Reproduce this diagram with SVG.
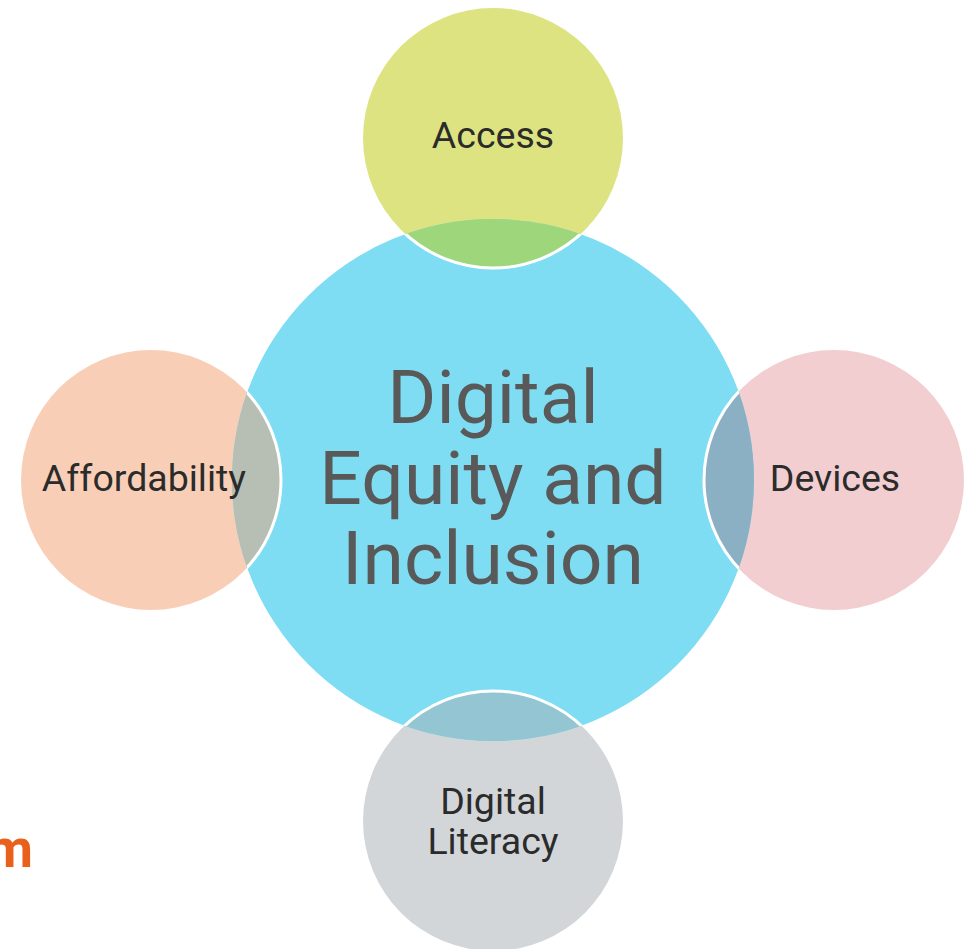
<svg xmlns="http://www.w3.org/2000/svg" width="974" height="949" viewBox="0 0 974 949">
<style>
.sm{font-family:Roboto,"Liberation Sans",sans-serif;font-size:37.5px;fill:#2b2b2b;text-anchor:middle}
.big{font-family:Roboto,"Liberation Sans",sans-serif;font-size:75px;fill:#595959;text-anchor:middle}
.ring{fill:none;stroke:#ffffff;stroke-width:3}
</style>
<defs>
<clipPath id="bigclip"><circle cx="493" cy="480" r="261"/></clipPath>
</defs>
<rect width="974" height="949" fill="#ffffff"/>
<g id="access-base"><circle cx="493" cy="138" r="130" fill="#dde380"/></g>
<g id="afford-base"><circle cx="151" cy="480" r="130" fill="#f8cfb6"/></g>
<g id="devices-base"><circle cx="834" cy="480" r="130" fill="#f2ced0"/></g>
<g id="literacy-base"><circle cx="493" cy="821" r="130" fill="#d2d6d9"/></g>
<g id="center">
<circle cx="493" cy="480" r="261" fill="#7fddf3"/>
<text class="big" x="493" y="423">Digital</text>
<text class="big" x="493" y="504">Equity and</text>
<text class="big" x="493" y="584">Inclusion</text>
</g>
<g id="overlaps" clip-path="url(#bigclip)">
<circle cx="493" cy="138" r="130" fill="#9ed77b"/>
<circle cx="151" cy="480" r="130" fill="#b7beb4"/>
<circle cx="834" cy="480" r="130" fill="#8bb0c3"/>
<circle cx="493" cy="821" r="130" fill="#93c5d3"/>
<circle class="ring" cx="493" cy="138" r="130"/>
<circle class="ring" cx="151" cy="480" r="130"/>
<circle class="ring" cx="834" cy="480" r="130"/>
<circle class="ring" cx="493" cy="821" r="130"/>
</g>
<g id="access"><text class="sm" x="493" y="148">Access</text></g>
<g id="affordability"><text class="sm" x="144" y="491">Affordability</text></g>
<g id="devices"><text class="sm" x="835" y="491">Devices</text></g>
<g id="literacy"><text class="sm" x="493" y="814">Digital</text><text class="sm" x="493" y="854">Literacy</text></g>
<text x="33" y="867" font-family="Roboto,'Liberation Sans',sans-serif" font-weight="bold" font-size="54" fill="#e8601c" text-anchor="end">m</text>
</svg>
